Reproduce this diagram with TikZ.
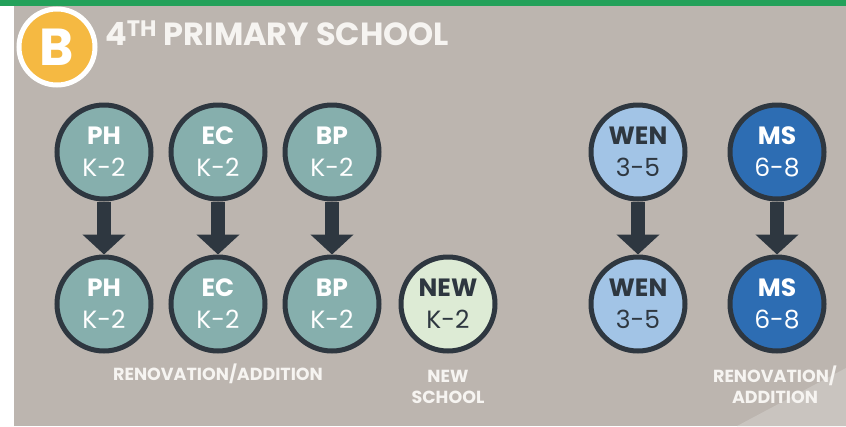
\documentclass[tikz,border=0pt]{standalone}
\usepackage{fontspec}
\setmainfont{Poppins}
\usetikzlibrary{arrows.meta}
\definecolor{backgray}{HTML}{BCB5AF}
\definecolor{topgreen}{HTML}{23A15A}
\definecolor{tealfill}{HTML}{86AFAD}
\definecolor{newfill}{HTML}{DDEBD5}
\definecolor{wenfill}{HTML}{A2C4E6}
\definecolor{msfill}{HTML}{2D6DB3}
\definecolor{darkline}{HTML}{2E3740}
\definecolor{badgeorange}{HTML}{F5B942}
\definecolor{labelwhite}{HTML}{F6F4F1}
\tikzset{
	school/.style={
		circle,
		draw=darkline, line width=5pt,
		minimum size=94pt,
		inner sep=0pt,
		align=center,
		font=\fontsize{25}{32}\selectfont},
	teal/.style={school, fill=tealfill, text=white},
	newschool/.style={school, fill=newfill, text=darkline},
	wen/.style={school, fill=wenfill, text=darkline},
	ms/.style={school, fill=msfill, text=white},
	move/.style={draw=darkline, line width=14pt,
		-{Triangle[width=42pt,length=20pt]}},
	caption/.style={text=labelwhite, align=center,
		font=\bfseries\fontsize{17.5}{21}\selectfont},
}
\begin{document}
\begin{tikzpicture}[x=1pt,y=-1pt]
	% background
	\useasboundingbox (0,0) rectangle (846,426);
	\fill[backgray] (0,0) rectangle (846,426);
	\fill[white] (0,0) rectangle (14,426);
	\fill[backgray!80!white] (737,426) -- (846,368) -- (846,426) -- cycle;
	\fill[topgreen] (0,0) rectangle (846,6);
	
	% header
	\node[circle, fill=badgeorange, draw=white, line width=5pt,
		minimum size=76pt, inner sep=0pt, text=white,
		font=\bfseries\fontsize{52}{52}\selectfont] (badge) at (57,47) {B};
	\node[anchor=west, text=labelwhite, inner sep=0pt,
		font=\bfseries\fontsize{32}{32}\selectfont] (title) at (105,33)
		{4\textsuperscript{TH} PRIMARY SCHOOL};
	
	% schools
	\node[teal] (ph1) at (104,152) {\textbf{PH}\\K-2};
	\node[teal] (ec1) at (218,152) {\textbf{EC}\\K-2};
	\node[teal] (bp1) at (332,152) {\textbf{BP}\\K-2};
	\node[wen] (wen1) at (638,152) {\textbf{WEN}\\3-5};
	\node[ms] (ms1) at (777,152) {\textbf{MS}\\6-8};
	
	\node[teal] (ph2) at (104,304) {\textbf{PH}\\K-2};
	\node[teal] (ec2) at (218,304) {\textbf{EC}\\K-2};
	\node[teal] (bp2) at (332,304) {\textbf{BP}\\K-2};
	\node[newschool] (new) at (448,304) {\textbf{NEW}\\K-2};
	\node[wen] (wen2) at (638,304) {\textbf{WEN}\\3-5};
	\node[ms] (ms2) at (777,304) {\textbf{MS}\\6-8};
	
	% arrows
	\foreach \s in {ph,ec,bp,wen,ms}
		\draw[move] (\s1.south) -- (\s2.north);
	
	% captions
	\node[caption] (reno) at (218,374) {RENOVATION/ADDITION};
	\node[caption] (newcap) at (448,387) {NEW\\SCHOOL};
	\node[caption] (msreno) at (775,385) {RENOVATION/\\ADDITION};
\end{tikzpicture}
\end{document}
